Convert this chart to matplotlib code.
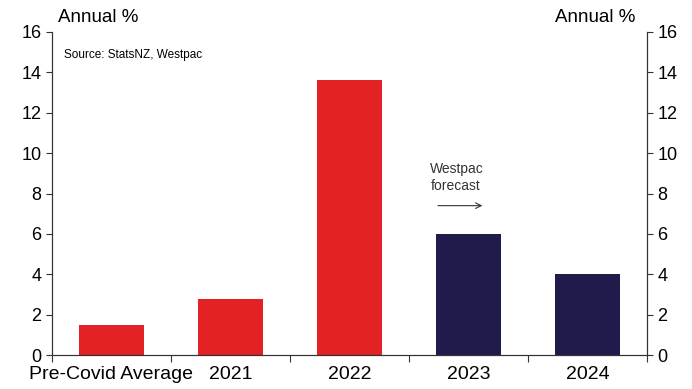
import matplotlib.pyplot as plt
import numpy as np

plt.rcParams['font.family'] = ['Liberation Sans', 'DejaVu Sans']

categories = ['Pre-Covid Average', '2021', '2022', '2023', '2024']
values = [1.5, 2.8, 13.6, 6.0, 4.0]
colors = ['#E32226', '#E32226', '#E32226', '#1F1C4C', '#1F1C4C']

fig = plt.figure(figsize=(6.92, 3.89), dpi=100)
ax = fig.add_axes([0.075, 0.087, 0.86, 0.831])

x = np.arange(len(categories))
ax.bar(x, values, width=0.55, color=colors)

ax.set_xlim(-0.5, len(categories) - 0.5)
ax.set_ylim(0, 16)
ax.set_yticks(range(0, 17, 2))
ax.set_xticks(np.arange(-0.5, len(categories), 1))
ax.set_xticklabels([])
ax.set_xticks(x, minor=True)
ax.set_xticklabels(categories, minor=True)
ax.tick_params(axis='x', which='minor', length=0, labelsize=14, pad=8)
ax.tick_params(axis='x', which='major', length=5, direction='out', color='#333333')
ax.tick_params(axis='y', labelsize=13, length=4, color='#333333')

ax2 = ax.twinx()
ax2.set_ylim(0, 16)
ax2.set_yticks(range(0, 17, 2))
ax2.tick_params(axis='y', labelsize=13, length=4, color='#333333')

for a in (ax, ax2):
    a.spines['top'].set_visible(False)
    for s in a.spines.values():
        s.set_color('#333333')

fig.text(0.084, 0.955, 'Annual %', fontsize=13.5, va='center', ha='left')
fig.text(0.918, 0.955, 'Annual %', fontsize=13.5, va='center', ha='right')
ax.text(-0.4, 14.85, 'Source: StatsNZ, Westpac', fontsize=8.5, va='center')

ax.text(2.68, 8.8, 'Westpac\nforecast', fontsize=10, va='center', ha='left',
        multialignment='left', color='#333333', linespacing=1.3)
ax.annotate('', xy=(3.14, 7.4), xytext=(2.72, 7.4),
            arrowprops=dict(arrowstyle='->', color='#333333', lw=0.8))

fig.savefig('out.png', dpi=100)
